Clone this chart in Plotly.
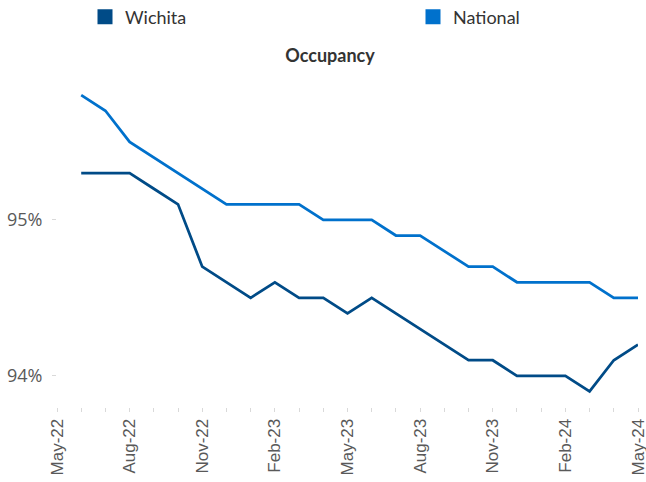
import plotly.graph_objects as go

# ---- data ----
months = ["May-22", "Jun-22", "Jul-22", "Aug-22", "Sep-22", "Oct-22", "Nov-22", "Dec-22",
          "Jan-23", "Feb-23", "Mar-23", "Apr-23", "May-23", "Jun-23", "Jul-23", "Aug-23",
          "Sep-23", "Oct-23", "Nov-23", "Dec-23", "Jan-24", "Feb-24", "Mar-24", "Apr-24",
          "May-24"]
data_months = months[1:]
wichita = [95.3, 95.3, 95.3, 95.2, 95.1, 94.7, 94.6, 94.5, 94.6, 94.5, 94.5, 94.4,
           94.5, 94.4, 94.3, 94.2, 94.1, 94.1, 94.0, 94.0, 94.0, 93.9, 94.1, 94.2]
national = [95.8, 95.7, 95.5, 95.4, 95.3, 95.2, 95.1, 95.1, 95.1, 95.1, 95.0, 95.0,
            95.0, 94.9, 94.9, 94.8, 94.7, 94.7, 94.6, 94.6, 94.6, 94.6, 94.5, 94.5]
y_ticks = [94, 95]
y_tick_text = ["94%", "95%"]
labeled_months = ["May-22", "Aug-22", "Nov-22", "Feb-23", "May-23", "Aug-23", "Nov-23",
                  "Feb-24", "May-24"]

C_WICHITA = "#004B87"
C_NATIONAL = "#0071CC"

W, H = 646, 482

fig = go.Figure()
fig.add_trace(go.Scatter(x=data_months, y=wichita, mode="lines", name="Wichita",
                         line=dict(color=C_WICHITA, width=2.75), showlegend=False))
fig.add_trace(go.Scatter(x=data_months, y=national, mode="lines", name="National",
                         line=dict(color=C_NATIONAL, width=2.75), showlegend=False))
# legend swatches
fig.add_trace(go.Scatter(x=[None], y=[None], mode="markers", name="Wichita", legend="legend",
                         marker=dict(symbol="square", size=15, color=C_WICHITA)))
fig.add_trace(go.Scatter(x=[None], y=[None], mode="markers", name="National", legend="legend2",
                         marker=dict(symbol="square", size=15, color=C_NATIONAL)))

leg_common = dict(orientation="h", xref="container", yref="container",
                  xanchor="left", yanchor="middle", y=1 - 17 / H,
                  font=dict(family="Lato, sans-serif", size=18, color="#333333"),
                  bgcolor="rgba(0,0,0,0)", borderwidth=0)

fig.update_layout(
    width=W, height=H,
    margin=dict(l=57, r=8, t=64, b=75, autoexpand=False),
    paper_bgcolor="white", plot_bgcolor="white",
    font=dict(family="Lato, sans-serif", color="#404040"),
    title=dict(text="<b>Occupancy</b>", x=330 / W, xref="container", xanchor="center",
               y=1 - 56 / H, yref="container", yanchor="middle",
               font=dict(family="Lato, sans-serif", size=18, color="#333333")),
    legend=dict(x=85 / W, **leg_common),
    legend2=dict(x=413 / W, **leg_common),
    xaxis=dict(type="category", categoryorder="array", categoryarray=months,
               range=[0, len(months) - 1],
               tickmode="array", tickvals=months,
               ticktext=[m if m in labeled_months else "" for m in months],
               tickangle=-90, ticks="outside", ticklen=4, tickcolor="#D9D9D9",
               showgrid=False, showline=False, zeroline=False,
               tickfont=dict(family="Liberation Sans, Arial, sans-serif", size=17,
                             color="#595959")),
    yaxis=dict(range=[93.8, 96.0], tickmode="array", tickvals=y_ticks,
               ticktext=y_tick_text, ticks="outside", ticklen=4, tickcolor="#D9D9D9",
               ticklabelstandoff=6,
               showgrid=False, showline=False, zeroline=False,
               tickfont=dict(family="Open Sans, sans-serif", size=18, color="#595959")),
)

fig.write_html("out.html", config={"displayModeBar": False},
               post_script="document.body.style.margin='0';document.body.style.overflow='hidden';")
